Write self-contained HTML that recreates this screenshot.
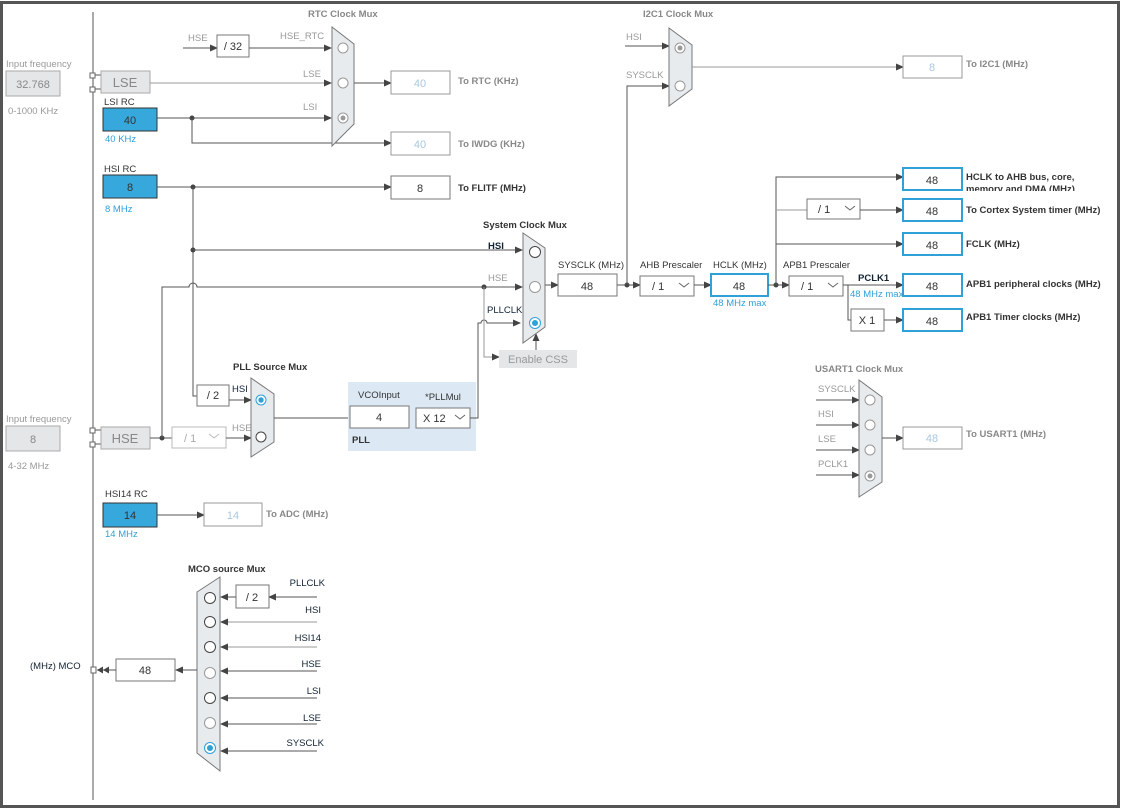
<!DOCTYPE html>
<html><head><meta charset="utf-8"><style>
html,body{margin:0;padding:0;background:#fff;}
svg{display:block;font-family:"Liberation Sans",sans-serif;}
.t{font-size:9.5px;fill:#333}
.g{font-size:9.5px;fill:#999}
.b{font-size:9.5px;font-weight:bold;fill:#333}
.bg{font-size:9.5px;font-weight:bold;fill:#888}
.bl{font-size:9.5px;fill:#2fa0d8}
.v{font-size:11px;fill:#333;text-anchor:middle}
.vl{font-size:11px;fill:#a9c8e0;text-anchor:middle}
.ln{stroke:#555;stroke-width:1;fill:none}
.lg{stroke:#999;stroke-width:1;fill:none}
.box{fill:#fff;stroke:#777;stroke-width:1}
.bb{fill:#fff;stroke:#2fa0d8;stroke-width:2}
.blue{fill:#36a8db;stroke:#333;stroke-width:1}
.gr{fill:#e4e6e8;stroke:#aaa;stroke-width:1}
.mux{fill:#e8ebee;stroke:#777;stroke-width:1}
.c{fill:#fff;stroke:#444;stroke-width:1}
.cg{fill:#fff;stroke:#999;stroke-width:1}
</style></head><body>
<svg width="1122" height="810" viewBox="0 0 1122 810" xmlns="http://www.w3.org/2000/svg">
<defs>
<marker id="a" markerWidth="8" markerHeight="8" refX="7" refY="4" orient="auto" markerUnits="userSpaceOnUse"><path d="M0,0.5 L8,4 L0,7.5z" fill="#444"/></marker>
</defs>
<rect x="1.5" y="2.5" width="1117" height="804" fill="#fff" stroke="#555" stroke-width="3"/>
<line x1="93" y1="12" x2="93" y2="800" class="ln"/>

<!-- Input freq LSE -->
<text x="6" y="67" class="g">Input frequency</text>
<rect x="6" y="71" width="54" height="25" class="gr"/>
<text x="33" y="88" class="vl" style="fill:#888">32.768</text>
<text x="8" y="114" class="g">0-1000 KHz</text>
<rect x="90" y="73" width="5" height="5" fill="#fff" stroke="#666"/>
<rect x="90" y="87" width="5" height="5" fill="#fff" stroke="#666"/>
<line x1="95" y1="75" x2="101" y2="75" class="ln"/><line x1="95" y1="89" x2="101" y2="89" class="ln"/>
<rect x="101" y="71" width="49" height="22" class="gr"/>
<text x="125" y="87" class="v" style="font-size:13px;fill:#888">LSE</text>

<!-- LSI -->
<text x="104" y="105" class="t">LSI RC</text>
<rect x="103" y="108" width="54" height="23" class="blue"/>
<text x="130" y="124" class="v">40</text>
<text x="105" y="142" class="bl">40 KHz</text>
<!-- HSI -->
<text x="104" y="172" class="t">HSI RC</text>
<rect x="103" y="175" width="54" height="23" class="blue"/>
<text x="130" y="191" class="v">8</text>
<text x="105" y="212" class="bl">8 MHz</text>

<!-- RTC -->
<text x="308" y="17" class="bg">RTC Clock Mux</text>
<text x="188" y="41" class="g">HSE</text>
<line x1="183" y1="48" x2="217" y2="48" class="ln" marker-end="url(#a)"/>
<rect x="217" y="35" width="32" height="22" class="box"/>
<text x="233" y="50" class="v">/ 32</text>
<line x1="249" y1="48" x2="331" y2="48" class="ln" marker-end="url(#a)"/>
<text x="280" y="39" class="g">HSE_RTC</text>
<line x1="150" y1="83" x2="331" y2="83" class="lg" marker-end="url(#a)"/>
<text x="303" y="77" class="g">LSE</text>
<line x1="157" y1="118" x2="331" y2="118" class="ln" marker-end="url(#a)"/>
<text x="303" y="110" class="g">LSI</text>
<circle cx="192" cy="118" r="2.5" fill="#444"/>
<path d="M192,118 V143 H391" class="ln" marker-end="url(#a)"/>
<path d="M332,27 L354,44 L354,124 L332,146z" class="mux"/>
<circle cx="343" cy="48" r="5" class="cg"/><circle cx="343" cy="83" r="5" class="cg"/>
<circle cx="343" cy="118" r="5" class="cg"/><circle cx="343" cy="118" r="2.5" fill="#999"/>
<line x1="354" y1="83" x2="391" y2="83" class="ln" marker-end="url(#a)"/>
<rect x="391" y="71" width="59" height="23" class="box" style="stroke:#999"/>
<text x="420" y="87" class="vl">40</text>
<text x="458" y="84" class="bg">To RTC (KHz)</text>
<rect x="391" y="132" width="59" height="23" class="box" style="stroke:#999"/>
<text x="420" y="148" class="vl">40</text>
<text x="458" y="147" class="bg">To IWDG (KHz)</text>

<!-- HSI line to FLITF -->
<line x1="157" y1="187" x2="391" y2="187" class="ln" marker-end="url(#a)"/>
<circle cx="193" cy="187" r="2.5" fill="#444"/>
<rect x="391" y="176" width="59" height="23" class="box"/>
<text x="420" y="192" class="v">8</text>
<text x="458" y="191" class="b">To FLITF (MHz)</text>
<path d="M193,187 V396 H197" class="ln"/>
<circle cx="193" cy="250" r="2.5" fill="#444"/>
<line x1="193" y1="250" x2="522" y2="250" class="ln" marker-end="url(#a)"/>

<!-- HSE -->
<text x="6" y="422" class="g">Input frequency</text>
<rect x="6" y="426" width="54" height="25" class="gr"/>
<text x="33" y="443" class="vl" style="fill:#888">8</text>
<text x="8" y="469" class="g">4-32 MHz</text>
<rect x="90" y="428" width="5" height="5" fill="#fff" stroke="#666"/>
<rect x="90" y="442" width="5" height="5" fill="#fff" stroke="#666"/>
<line x1="95" y1="430" x2="101" y2="430" class="ln"/><line x1="95" y1="444" x2="101" y2="444" class="ln"/>
<rect x="101" y="427" width="49" height="22" class="gr"/>
<text x="125" y="443" class="v" style="font-size:13px;fill:#888">HSE</text>
<line x1="150" y1="438" x2="172" y2="438" class="ln"/>
<circle cx="162" cy="438" r="2.5" fill="#444"/>
<path d="M162,438 V287 H189 a4,4 0 0 1 8,0 H522" class="ln" marker-end="url(#a)"/>
<text x="488" y="281" class="g">HSE</text>
<rect x="172" y="427" width="54" height="21" class="box" style="stroke:#bbb"/>
<text x="184" y="442" class="g" style="font-size:11px;fill:#aaa">/ 1</text>
<path d="M209,434 l5,4 l5,-4" fill="none" stroke="#bbb"/>
<line x1="226" y1="438" x2="251" y2="438" class="ln" marker-end="url(#a)"/>
<text x="232" y="431" class="g">HSE</text>
<rect x="197" y="385" width="32" height="21" class="box"/>
<text x="213" y="399" class="v">/ 2</text>
<line x1="229" y1="400" x2="251" y2="400" class="ln" marker-end="url(#a)"/>
<text x="232" y="392" class="t" style="fill:#123">HSI</text>
<text x="233" y="370" class="b">PLL Source Mux</text>
<path d="M251,378 L274,394 L274,442 L251,457z" class="mux"/>
<circle cx="261" cy="400" r="5" fill="#fff" stroke="#2fa0d8"/><circle cx="261" cy="400" r="2.7" fill="#2fa0d8"/>
<circle cx="261" cy="437" r="5" class="c"/>
<line x1="274" y1="418" x2="350" y2="418" class="ln"/>
<!-- PLL panel -->
<rect x="348" y="382" width="128" height="69" fill="#dce9f5"/>
<text x="358" y="398" class="t">VCOInput</text>
<rect x="350" y="406" width="59" height="22" class="box"/>
<text x="379" y="421" class="v">4</text>
<text x="425" y="400" class="t">*PLLMul</text>
<rect x="416" y="408" width="54" height="20" class="box"/>
<text x="423" y="422" class="t" style="font-size:11px">X 12</text>
<path d="M455,415 l5,4 l5,-4" fill="none" stroke="#666"/>
<text x="352" y="443" class="b">PLL</text>
<path d="M470,418 H478 V323 H481 a3,3 0 0 1 6,0 H520" class="ln" marker-end="url(#a)"/>
<text x="487" y="313" class="t" style="fill:#123">PLLCLK</text>
<text x="488" y="249" class="b" style="fill:#123">HSI</text>
<circle cx="484" cy="287" r="2.5" fill="#444"/>
<path d="M484,287 V357 H499" class="lg" marker-end="url(#a)"/>
<rect x="499" y="350" width="78" height="18" fill="#e4e6e8"/>
<text x="538" y="363" class="v" style="fill:#999">Enable CSS</text>
<line x1="536" y1="350" x2="536" y2="334" class="ln" marker-end="url(#a)"/>
<text x="483" y="228" class="b">System Clock Mux</text>
<path d="M523,233 L545,248 L545,327 L523,343z" class="mux"/>
<circle cx="535" cy="252" r="5.5" class="c"/>
<circle cx="535" cy="287" r="5.5" class="cg"/>
<circle cx="535" cy="323" r="5.5" fill="#fff" stroke="#2fa0d8"/><circle cx="535" cy="323" r="3" fill="#2fa0d8"/>
<line x1="545" y1="285" x2="558" y2="285" class="ln" marker-end="url(#a)"/>
<text x="558" y="268" class="t">SYSCLK (MHz)</text>
<rect x="558" y="274" width="59" height="22" class="box"/>
<text x="587" y="290" class="v">48</text>
<line x1="617" y1="285" x2="640" y2="285" class="ln" marker-end="url(#a)"/>
<circle cx="627" cy="285" r="2.5" fill="#444"/>
<path d="M627,285 V86 H669" class="ln" marker-end="url(#a)"/>
<text x="640" y="268" class="t">AHB Prescaler</text>
<rect x="640" y="276" width="54" height="20" class="box"/>
<text x="652" y="290" class="t" style="font-size:11px">/ 1</text>
<path d="M679,283 l5,4 l5,-4" fill="none" stroke="#666"/>
<line x1="694" y1="285" x2="711" y2="285" class="ln" marker-end="url(#a)"/>
<text x="713" y="268" class="t">HCLK (MHz)</text>
<rect x="711" y="274" width="57" height="22" class="bb"/>
<text x="739" y="290" class="v">48</text>
<text x="713" y="306" class="bl">48 MHz max</text>
<line x1="768" y1="285" x2="789" y2="285" class="ln" marker-end="url(#a)"/>
<circle cx="776" cy="285" r="2.5" fill="#444"/>
<path d="M776,285 V177 H903" class="ln" marker-end="url(#a)"/>
<path d="M776,210 H807" class="lg"/>
<rect x="807" y="199" width="53" height="20" class="box"/>
<text x="818" y="213" class="t" style="font-size:11px">/ 1</text>
<path d="M845,206 l5,4 l5,-4" fill="none" stroke="#666"/>
<line x1="860" y1="210" x2="903" y2="210" class="ln" marker-end="url(#a)"/>
<line x1="776" y1="244" x2="903" y2="244" class="ln" marker-end="url(#a)"/>
<text x="783" y="268" class="t">APB1 Prescaler</text>
<rect x="789" y="276" width="54" height="20" class="box"/>
<text x="801" y="290" class="t" style="font-size:11px">/ 1</text>
<path d="M828,283 l5,4 l5,-4" fill="none" stroke="#666"/>
<line x1="843" y1="285" x2="903" y2="285" class="ln" marker-end="url(#a)"/>
<text x="858" y="281" class="b" style="fill:#123">PCLK1</text>
<text x="850" y="297" class="bl">48 MHz max</text>
<path d="M848,285 V320 H851" class="ln"/>
<rect x="851" y="309" width="33" height="22" class="box"/>
<text x="867" y="324" class="v">X 1</text>
<line x1="884" y1="320" x2="903" y2="320" class="ln" marker-end="url(#a)"/>
<rect x="903" y="168" width="59" height="22" class="bb"/><text x="932" y="184" class="v">48</text>
<rect x="903" y="199" width="59" height="22" class="bb"/><text x="932" y="215" class="v">48</text>
<rect x="903" y="233" width="59" height="22" class="bb"/><text x="932" y="249" class="v">48</text>
<rect x="903" y="274" width="59" height="22" class="bb"/><text x="932" y="290" class="v">48</text>
<rect x="903" y="309" width="59" height="22" class="bb"/><text x="932" y="325" class="v">48</text>
<text x="966" y="180" class="b">HCLK to AHB bus, core,</text>
<svg x="960" y="183" width="120" height="8" overflow="hidden"><text x="6" y="9" class="b">memory and DMA (MHz)</text></svg>
<text x="966" y="213" class="b">To Cortex System timer (MHz)</text>
<text x="966" y="247" class="b">FCLK (MHz)</text>
<text x="966" y="287" class="b">APB1 peripheral clocks (MHz)</text>
<text x="966" y="320" class="b">APB1 Timer clocks (MHz)</text>

<!-- I2C -->
<text x="643" y="17" class="bg">I2C1 Clock Mux</text>
<text x="626" y="40" class="g">HSI</text>
<line x1="625" y1="46" x2="669" y2="46" class="ln" marker-end="url(#a)"/>
<text x="626" y="78" class="g">SYSCLK</text>
<path d="M669,28 L692,45 L692,89 L669,106z" class="mux"/>
<circle cx="680" cy="48" r="5" class="cg"/><circle cx="680" cy="48" r="2.5" fill="#999"/>
<circle cx="680" cy="86" r="5" class="cg"/>
<line x1="692" y1="67" x2="903" y2="67" class="lg" marker-end="url(#a)"/>
<rect x="903" y="56" width="59" height="22" class="box" style="stroke:#999"/>
<text x="932" y="71" class="vl">8</text>
<text x="966" y="67" class="bg">To I2C1 (MHz)</text>

<!-- USART -->
<text x="815" y="372" class="bg">USART1 Clock Mux</text>
<text x="818" y="392" class="g">SYSCLK</text>
<text x="818" y="417" class="g">HSI</text>
<text x="818" y="442" class="g">LSE</text>
<text x="818" y="467" class="g">PCLK1</text>
<line x1="816" y1="400" x2="859" y2="400" class="ln" marker-end="url(#a)"/>
<line x1="816" y1="425" x2="859" y2="425" class="ln" marker-end="url(#a)"/>
<line x1="816" y1="450" x2="859" y2="450" class="ln" marker-end="url(#a)"/>
<line x1="816" y1="475" x2="859" y2="475" class="ln" marker-end="url(#a)"/>
<path d="M859,380 L882,397 L882,482 L859,497z" class="mux"/>
<circle cx="870" cy="400" r="5" class="cg"/><circle cx="870" cy="425" r="5" class="cg"/>
<circle cx="870" cy="450" r="5" class="cg"/><circle cx="870" cy="476" r="5" class="cg"/><circle cx="870" cy="476" r="2.5" fill="#999"/>
<line x1="882" y1="438" x2="903" y2="438" class="ln" marker-end="url(#a)"/>
<rect x="903" y="427" width="59" height="22" class="box" style="stroke:#999"/>
<text x="932" y="442" class="vl">48</text>
<text x="966" y="437" class="bg">To USART1 (MHz)</text>

<!-- HSI14 -->
<text x="105" y="497" class="t">HSI14 RC</text>
<rect x="103" y="503" width="54" height="24" class="blue"/>
<text x="130" y="519" class="v">14</text>
<text x="105" y="537" class="bl">14 MHz</text>
<line x1="157" y1="515" x2="204" y2="515" class="ln" marker-end="url(#a)"/>
<rect x="204" y="503" width="58" height="23" class="box" style="stroke:#999"/>
<text x="233" y="519" class="vl">14</text>
<text x="266" y="517" class="bg">To ADC (MHz)</text>

<!-- MCO -->
<text x="188" y="572" class="b">MCO source Mux</text>
<path d="M197,592 L220,577 L220,771 L197,753z" class="mux"/>
<circle cx="210" cy="598" r="5.5" class="c"/><circle cx="210" cy="622" r="5.5" class="c"/>
<circle cx="210" cy="647" r="5.5" class="c"/><circle cx="210" cy="673" r="5.5" class="cg"/>
<circle cx="210" cy="698" r="5.5" class="c"/><circle cx="210" cy="723" r="5.5" class="cg"/>
<circle cx="210" cy="748" r="5.5" fill="#fff" stroke="#2fa0d8"/><circle cx="210" cy="748" r="3" fill="#2fa0d8"/>
<line x1="317" y1="597" x2="269" y2="597" class="ln" marker-end="url(#a)"/>
<rect x="236" y="585" width="33" height="23" class="box"/>
<text x="252" y="601" class="v">/ 2</text>
<line x1="236" y1="597" x2="221" y2="597" class="ln" marker-end="url(#a)"/>
<line x1="317" y1="622" x2="221" y2="622" class="lg" marker-end="url(#a)"/>
<line x1="317" y1="647" x2="221" y2="647" class="lg" marker-end="url(#a)"/>
<line x1="317" y1="671" x2="221" y2="671" class="ln" marker-end="url(#a)"/>
<line x1="317" y1="698" x2="221" y2="698" class="ln" marker-end="url(#a)"/>
<line x1="317" y1="724" x2="221" y2="724" class="ln" marker-end="url(#a)"/>
<line x1="317" y1="751" x2="221" y2="751" class="ln" marker-end="url(#a)"/>
<g class="t" text-anchor="end" style="fill:#123">
<text x="325" y="586">PLLCLK</text><text x="321" y="613">HSI</text><text x="321" y="641">HSI14</text>
<text x="321" y="667">HSE</text><text x="321" y="694">LSI</text><text x="321" y="721">LSE</text><text x="324" y="746">SYSCLK</text>
</g>
<line x1="197" y1="670" x2="176" y2="670" class="ln" marker-end="url(#a)"/>
<rect x="116" y="659" width="59" height="22" class="box"/>
<text x="145" y="674" class="v">48</text>
<line x1="116" y1="670" x2="97" y2="670" class="ln"/>
<path d="M97,670 l6,-3.5 v7z M103,670 l6,-3.5 v7z" fill="#444"/>
<rect x="91" y="667" width="5" height="6" fill="#fff" stroke="#666"/>
<text x="30" y="669" class="t" style="fill:#123">(MHz) MCO</text>
</svg>
</body></html>
